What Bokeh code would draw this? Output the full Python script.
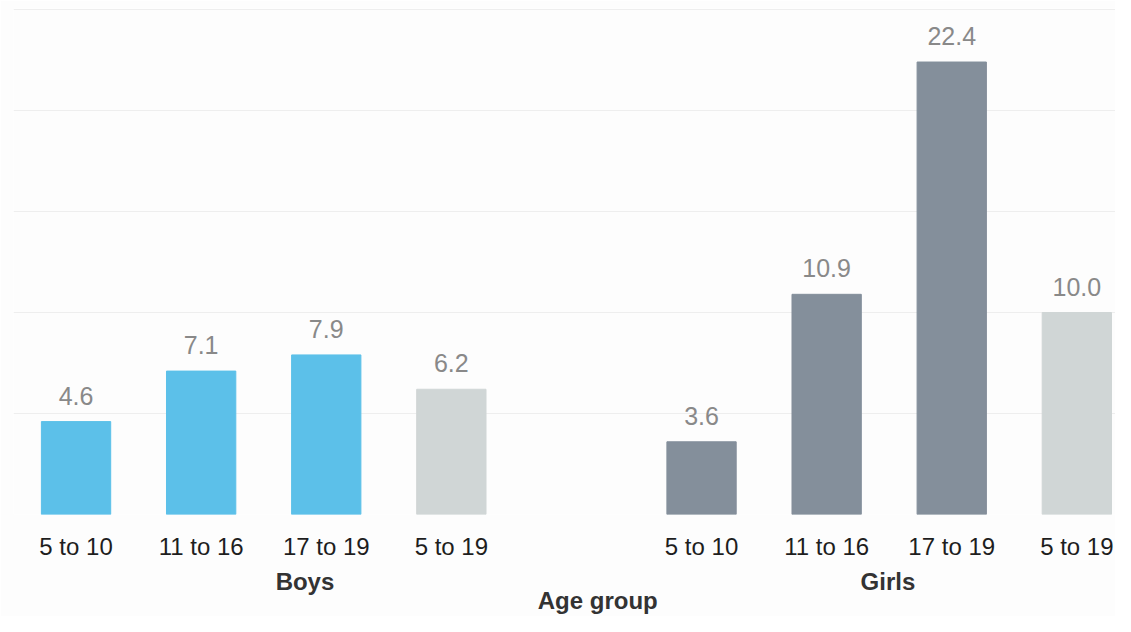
from bokeh.plotting import figure
from bokeh.models import ColumnDataSource, Range1d, FixedTicker, LinearAxis
from bokeh.core.properties import value
from bokeh.embed import file_html
from bokeh.resources import INLINE

# ---- data ----
groups = ["Boys", "Boys", "Boys", "Boys", "Girls", "Girls", "Girls", "Girls"]
ages = ["5 to 10", "11 to 16", "17 to 19", "5 to 19",
        "5 to 10", "11 to 16", "17 to 19", "5 to 19"]
values = [4.6, 7.1, 7.9, 6.2, 3.6, 10.9, 22.4, 10.0]
group_names = ["Boys", "Girls"]
axis_title = "Age group"

# ---- styling ----
FONT = "Liberation Sans"
BOYS_COLOR = "#5CC0E9"
GIRLS_COLOR = "#848F9B"
TOTAL_COLOR = "#D0D6D6"

xs, colors, labels = [], [], []
for i, (g, a, v) in enumerate(zip(groups, ages, values)):
    gi = group_names.index(g)
    xs.append(i + gi + 0.5)          # one empty slot between the groups
    if a == "5 to 19":
        colors.append(TOTAL_COLOR)
    else:
        colors.append(BOYS_COLOR if g == "Boys" else GIRLS_COLOR)
    labels.append(f"{v:.1f}")

src = ColumnDataSource(dict(x=xs, value=values, color=colors, label=labels))

p = figure(width=1115, height=616,
           x_range=Range1d(0, 8.809), y_range=Range1d(0, 25.05),
           output_backend="svg", toolbar_location=None,
           min_border_left=13, min_border_right=0, min_border_top=8,
           min_border_bottom=102)
p.background_fill_color = "#FDFDFD"
p.border_fill_color = "#FDFDFD"
p.outline_line_color = None

p.vbar(x="x", top="value", width=0.554, color="color", source=src)
p.text(x="x", y="value", text="label", source=src,
       text_align="center", text_baseline="alphabetic", y_offset=-26,
       text_font=value(FONT), text_font_size="25px", text_color="#898989")

p.yaxis.visible = False
p.ygrid.ticker = FixedTicker(ticks=[0, 5, 10, 15, 20, 25], minor_ticks=[])
p.ygrid.grid_line_color = "#EEEEEE"
p.xgrid.visible = False


def style_axis(ax, standoff, bold, color, size):
    ax.axis_line_color = None
    ax.major_tick_line_color = None
    ax.minor_tick_line_color = None
    ax.major_tick_out = 0
    ax.major_tick_in = 0
    ax.major_label_standoff = standoff
    ax.major_label_text_font = FONT
    ax.major_label_text_font_size = size
    ax.major_label_text_font_style = "bold" if bold else "normal"
    ax.major_label_text_color = color


# level 1: age groups
ax1 = p.xaxis[0]
ax1.ticker = FixedTicker(ticks=xs, minor_ticks=[])
ax1.major_label_overrides = {x: a for x, a in zip(xs, ages)}
style_axis(ax1, 18, False, "#1E1E1E", "24px")

# level 2: sex
gpos = [2.33, 6.99]
ax2 = LinearAxis(ticker=FixedTicker(ticks=gpos, minor_ticks=[]),
                 major_label_overrides={x: g for x, g in zip(gpos, group_names)})
style_axis(ax2, 5, True, "#333333", "24px")
p.add_layout(ax2, "below")

# level 3: axis title
tpos = [4.67]
ax3 = LinearAxis(ticker=FixedTicker(ticks=tpos, minor_ticks=[]),
                 major_label_overrides={tpos[0]: axis_title})
style_axis(ax3, -11, True, "#333333", "24px")
p.add_layout(ax3, "below")

open("out.html", "w").write(file_html(p, INLINE))
